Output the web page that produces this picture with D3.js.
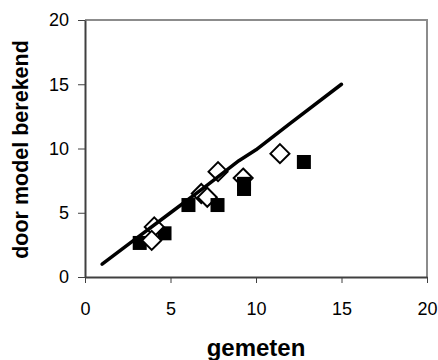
<!DOCTYPE html>
<html>
<head>
<meta charset="utf-8">
<script src="https://cdn.jsdelivr.net/npm/d3@7"></script>
<style>
  body { margin: 0; background: #fff; }
  svg { display: block; font-family: "Liberation Sans", Arial, sans-serif; }
</style>
</head>
<body>
<script>
const width = 438
const height = 360

// model line (door model berekend = gemeten)
const lineX = [1, 3, 5, 7, 9, 10, 12, 15]
const lineY = [1, 3, 5, 7, 9.05, 9.9, 11.95, 15]

// open diamonds, behind the squares
const openBackX = [6.8, 7.15, 7.78, 9.25, 11.4]
const openBackY = [6.5, 6.2, 8.2, 7.7, 9.6]

// filled squares
const filledX = [3.2, 4.65, 6.05, 7.75, 9.3, 9.3, 12.8]
const filledY = [2.65, 3.4, 5.6, 5.6, 7.25, 6.85, 8.95]

// open diamonds, in front of the squares
const openFrontX = [4.05, 3.9]
const openFrontY = [3.9, 2.85]

const tickValues = [0, 5, 10, 15, 20]

const margin = { top: 20, right: 11, bottom: 83, left: 85 }

const x = d3.scaleLinear().domain([0, 20]).range([margin.left, width - margin.right])
const y = d3.scaleLinear().domain([0, 20]).range([height - margin.bottom, margin.top])

const svg = d3.select("body")
    .append("svg")
    .attr("width", width)
    .attr("height", height)
    .attr("viewBox", [0, 0, width, height])

// plot frame (top / right in light grey)
svg.append("path")
    .attr("d", `M${x(0)},${y(20)} H${x(20)} V${y(0)}`)
    .attr("fill", "none")
    .attr("stroke", "#8c8c8c")
    .attr("stroke-width", 2)

const xAxis = svg.append("g")
    .attr("transform", `translate(0,${y(0)})`)
    .call(d3.axisBottom(x).tickValues(tickValues).tickSize(6).tickPadding(19).tickSizeOuter(0))
xAxis.select(".domain").attr("stroke", "#404040").attr("stroke-width", 2)
xAxis.selectAll(".tick line").attr("stroke", "#404040").attr("stroke-width", 1)
xAxis.selectAll(".tick text").attr("font-size", 18).attr("fill", "#000")
    .attr("font-family", "Liberation Sans, Arial, sans-serif")

const yAxis = svg.append("g")
    .attr("transform", `translate(${x(0)},0)`)
    .call(d3.axisLeft(y).tickValues(tickValues).tickSize(7).tickPadding(9).tickSizeOuter(0))
yAxis.select(".domain").attr("stroke", "#404040").attr("stroke-width", 2)
yAxis.selectAll(".tick line").attr("stroke", "#404040").attr("stroke-width", 1)
yAxis.selectAll(".tick text").attr("font-size", 18).attr("fill", "#000")
    .attr("font-family", "Liberation Sans, Arial, sans-serif")

const diamond = "M0,-9.5L9.5,0L0,9.5L-9.5,0Z"
const sq = 14

function drawOpen(xs, ys) {
    svg.append("g")
        .selectAll("path")
        .data(d3.zip(xs, ys))
        .join("path")
        .attr("d", diamond)
        .attr("transform", (d) => `translate(${x(d[0])},${y(d[1])})`)
        .attr("fill", "#fff")
        .attr("stroke", "#000")
        .attr("stroke-width", 2)
}

drawOpen(openBackX, openBackY)

svg.append("g")
    .selectAll("rect")
    .data(d3.zip(filledX, filledY))
    .join("rect")
    .attr("x", (d) => x(d[0]) - sq / 2)
    .attr("y", (d) => y(d[1]) - sq / 2)
    .attr("width", sq)
    .attr("height", sq)
    .attr("fill", "#000")

drawOpen(openFrontX, openFrontY)

const line = d3.line()
    .x((d) => x(d[0]))
    .y((d) => y(d[1]))

svg.append("path")
    .datum(d3.zip(lineX, lineY))
    .attr("d", line)
    .attr("fill", "none")
    .attr("stroke", "#000")
    .attr("stroke-width", 3.5)
    .attr("stroke-linecap", "round")
    .attr("stroke-linejoin", "round")

svg.append("text")
    .attr("x", x(10))
    .attr("y", 356)
    .attr("text-anchor", "middle")
    .attr("font-size", 24)
    .attr("font-weight", "bold")
    .text("gemeten")

svg.append("text")
    .attr("transform", `translate(28,${y(10) + 1}) rotate(-90)`)
    .attr("text-anchor", "middle")
    .attr("font-size", 21.5)
    .attr("font-weight", "bold")
    .text("door model berekend")
</script>
</body>
</html>
